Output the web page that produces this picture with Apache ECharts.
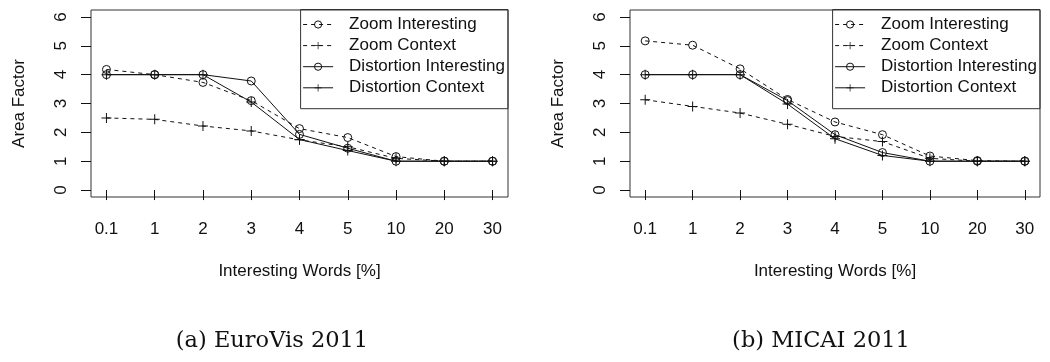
<!DOCTYPE html>
<html>
<head>
<meta charset="utf-8">
<script src="https://cdn.jsdelivr.net/npm/echarts@6/dist/echarts.min.js"></script>
<style>
html,body{margin:0;padding:0;background:#fff;}
#chart{width:1050px;height:362px;}
</style>
</head>
<body>
<div id="chart"></div>
<script>
// ---- data ----
const categories = ['0.1', '1', '2', '3', '4', '5', '10', '20', '30'];
const yTicks = [0, 1, 2, 3, 4, 5, 6];
const seriesNames = ['Zoom Interesting', 'Zoom Context', 'Distortion Interesting', 'Distortion Context'];
const captions = ['(a) EuroVis 2011', '(b) MICAI 2011'];
const xTitle = 'Interesting Words [%]';
const yTitle = 'Area Factor';

// (a) EuroVis 2011
const zoomInterestingA = [4.18, 4.0, 3.73, 3.1, 2.13, 1.82, 1.16, 1.0, 1.0];
const zoomContextA     = [2.5, 2.45, 2.22, 2.05, 1.74, 1.5, 1.1, 1.0, 1.0];
const distInterestingA = [4.0, 4.0, 4.0, 3.78, 1.93, 1.45, 1.0, 1.0, 1.0];
const distContextA     = [4.0, 4.0, 4.0, 3.05, 1.75, 1.37, 1.0, 1.0, 1.0];

// (b) MICAI 2011
const zoomInterestingB = [5.17, 5.02, 4.2, 3.14, 2.36, 1.92, 1.18, 1.02, 1.0];
const zoomContextB     = [3.13, 2.9, 2.67, 2.28, 1.86, 1.68, 1.1, 1.0, 1.0];
const distInterestingB = [4.0, 4.0, 4.0, 3.1, 1.92, 1.3, 1.0, 1.0, 1.0];
const distContextB     = [4.0, 4.0, 4.0, 2.98, 1.78, 1.2, 1.0, 1.0, 1.0];

// ---- styling ----
const INK = '#111';
const FONT = '"Liberation Sans", Arial, Helvetica, sans-serif';
const FS = 17;
const plusPath = 'path://M9,0 L11,0 L11,9 L20,9 L20,11 L11,11 L11,20 L9,20 L9,11 L0,11 L0,9 L9,9 Z';
const xTickPos = categories.map((c, i) => i + 1);

const styles = [
  {dashed: true, plus: false},
  {dashed: true, plus: true},
  {dashed: false, plus: false},
  {dashed: false, plus: true}
];

function toPairs(arr) { return arr.map((v, i) => [i + 1, v]); }

function makeSeries(name, values, idx, style) {
  return {
    type: 'line',
    name: name,
    xAxisIndex: idx, yAxisIndex: idx,
    data: toPairs(values),
    symbol: style.plus ? plusPath : 'circle',
    symbolSize: style.plus ? 10 : 8,
    showSymbol: true,
    animation: false,
    lineStyle: {color: INK, width: 1, type: style.dashed ? [4, 4] : 'solid'},
    itemStyle: style.plus
      ? {color: INK, borderWidth: 0}
      : {color: 'rgba(0,0,0,0)', borderColor: INK, borderWidth: 1},
    emphasis: {disabled: true}
  };
}

const grids = [
  {left: 91, top: 10, width: 417, height: 187},
  {left: 630, top: 10, width: 410, height: 187}
];

function xAxis(idx) {
  return {
    type: 'value', gridIndex: idx, min: 0.68, max: 9.32,
    splitLine: {show: false},
    axisLine: {show: false},
    axisTick: {show: true, inside: false, length: 10, customValues: xTickPos, lineStyle: {color: INK}},
    axisLabel: {
      customValues: xTickPos, margin: 24, color: INK, fontFamily: FONT, fontSize: FS,
      formatter: v => categories[Math.round(v) - 1]
    },
    name: xTitle, nameLocation: 'middle', nameGap: 66,
    nameTextStyle: {color: INK, fontFamily: FONT, fontSize: FS}
  };
}
function yAxis(idx) {
  return {
    type: 'value', gridIndex: idx, min: -0.24, max: 6.24,
    splitLine: {show: false},
    axisLine: {show: false},
    axisTick: {show: true, length: 10, customValues: yTicks, lineStyle: {color: INK}},
    axisLabel: {customValues: yTicks, rotate: 90, margin: 21, color: INK, fontFamily: FONT, fontSize: FS},
    name: yTitle, nameLocation: 'middle', nameGap: 63, nameRotate: 90,
    nameTextStyle: {color: INK, fontFamily: FONT, fontSize: FS}
  };
}

const valsA = [zoomInterestingA, zoomContextA, distInterestingA, distContextA];
const valsB = [zoomInterestingB, zoomContextB, distInterestingB, distContextB];
const series = [];
seriesNames.forEach((n, i) => series.push(makeSeries(n, valsA[i], 0, styles[i])));
seriesNames.forEach((n, i) => series.push(makeSeries(n, valsB[i], 1, styles[i])));

function legend(rightPx) {
  return {
    show: true, orient: 'vertical', right: rightPx, top: 9.5,
    data: seriesNames,
    itemWidth: 30, itemHeight: 9, itemGap: 4.1,
    padding: [6.5, 3, 12.4, 2],
    borderColor: '#333', borderWidth: 1, borderRadius: 0,
    selectedMode: false,
    itemStyle: {borderWidth: 1},
    lineStyle: {width: 1},
    textStyle: {color: INK, fontFamily: FONT, fontSize: FS, padding: [0, 0, 0, 11]}
  };
}

const chart = echarts.init(document.getElementById('chart'), null, {renderer: 'canvas'});
chart.setOption({
  backgroundColor: '#fff',
  animation: false,
  grid: grids.map(g => Object.assign({show: true, borderColor: '#333', borderWidth: 1, backgroundColor: 'rgba(0,0,0,0)'}, g)),
  xAxis: [xAxis(0), xAxis(1)],
  yAxis: [yAxis(0), yAxis(1)],
  legend: [legend(542), legend(10)],
  title: [
    {text: captions[0], left: 267, top: 325, textAlign: 'center',
     textStyle: {fontFamily: '"DejaVu Serif", serif', fontSize: 22.5, fontWeight: 'normal', color: '#111'}},
    {text: captions[1], left: 816, top: 325, textAlign: 'center',
     textStyle: {fontFamily: '"DejaVu Serif", serif', fontSize: 22.5, fontWeight: 'normal', color: '#111'}}
  ],
  series: series
});
</script>
</body>
</html>
